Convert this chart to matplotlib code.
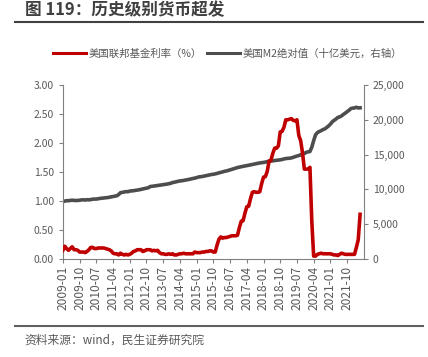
import numpy as np
import matplotlib
matplotlib.use('Agg')
import matplotlib.pyplot as plt
from matplotlib.lines import Line2D

plt.rcParams['font.family'] = ['Noto Sans CJK SC', 'DejaVu Sans']

# Monthly data, 2009-01 .. 2022-05
fed_rate = [
    0.15, 0.22, 0.18, 0.15, 0.18, 0.21, 0.16, 0.16, 0.15, 0.12, 0.12, 0.12,  # 2009
    0.11, 0.13, 0.16, 0.20, 0.20, 0.18, 0.18, 0.19, 0.19, 0.19, 0.19, 0.18,  # 2010
    0.17, 0.16, 0.14, 0.10, 0.09, 0.09, 0.07, 0.10, 0.08, 0.07, 0.08, 0.07,  # 2011
    0.08, 0.10, 0.13, 0.14, 0.16, 0.16, 0.16, 0.13, 0.14, 0.16, 0.16, 0.16,  # 2012
    0.14, 0.15, 0.14, 0.15, 0.11, 0.09, 0.09, 0.08, 0.08, 0.09, 0.08, 0.09,  # 2013
    0.07, 0.07, 0.08, 0.09, 0.09, 0.10, 0.09, 0.09, 0.09, 0.09, 0.09, 0.12,  # 2014
    0.11, 0.11, 0.11, 0.12, 0.12, 0.13, 0.13, 0.14, 0.14, 0.12, 0.12, 0.24,  # 2015
    0.34, 0.38, 0.36, 0.37, 0.37, 0.38, 0.39, 0.40, 0.40, 0.40, 0.41, 0.54,  # 2016
    0.65, 0.66, 0.79, 0.90, 0.91, 1.04, 1.15, 1.16, 1.15, 1.15, 1.16, 1.30,  # 2017
    1.41, 1.42, 1.51, 1.69, 1.70, 1.82, 1.91, 1.91, 1.95, 2.19, 2.20, 2.27,  # 2018
    2.40, 2.40, 2.41, 2.42, 2.39, 2.38, 2.40, 2.13, 2.04, 1.83, 1.55, 1.55,  # 2019
    1.55, 1.58, 0.65, 0.05, 0.05, 0.08, 0.09, 0.10, 0.09, 0.09, 0.09, 0.09,  # 2020
    0.09, 0.08, 0.07, 0.07, 0.06, 0.08, 0.10, 0.09, 0.08, 0.08, 0.08, 0.08,  # 2021
    0.08, 0.08, 0.20, 0.33, 0.77,                                            # 2022
]

m2 = [
    8250, 8320, 8380, 8370, 8420, 8440, 8420, 8400, 8420, 8440, 8490, 8500,
    8470, 8520, 8500, 8530, 8600, 8600, 8610, 8660, 8700, 8740, 8760, 8800,
    8820, 8870, 8910, 8960, 9010, 9080, 9260, 9530, 9570, 9630, 9680, 9660,
    9760, 9780, 9810, 9850, 9900, 9940, 10000, 10060, 10110, 10190, 10240, 10410,
    10440, 10480, 10520, 10550, 10590, 10630, 10670, 10720, 10760, 10820, 10870, 10980,
    11030, 11100, 11160, 11220, 11240, 11290, 11340, 11400, 11440, 11510, 11560, 11620,
    11690, 11780, 11810, 11850, 11910, 11970, 12020, 12090, 12140, 12170, 12230, 12290,
    12380, 12440, 12510, 12600, 12640, 12720, 12800, 12890, 12970, 13050, 13140, 13200,
    13260, 13310, 13360, 13420, 13460, 13520, 13580, 13640, 13700, 13750, 13800, 13840,
    13870, 13920, 13990, 14030, 14070, 14120, 14150, 14180, 14210, 14240, 14300, 14370,
    14430, 14450, 14480, 14520, 14610, 14700, 14790, 14860, 14970, 15060, 15150, 15320,
    15390, 15440, 16060, 17000, 17830, 18150, 18310, 18430, 18590, 18690, 18890, 19110,
    19370, 19700, 19920, 20100, 20330, 20420, 20550, 20770, 20950, 21150, 21360, 21600,
    21680, 21700, 21800, 21700, 21720,
]

months = [f'{2009 + i // 12}-{i % 12 + 1:02d}' for i in range(len(fed_rate))]
tick_labels = months[::9][:18]

RED = '#C00000'
GREY = '#4D4D4D'
TXT = '#595959'

fig = plt.figure(figsize=(4.28, 3.57), dpi=100)
ax = fig.add_axes([0.147, 0.2745, 0.703, 0.4875])
ax2 = ax.twinx()

x = np.arange(len(fed_rate))
ax.plot(x, fed_rate, color=RED, lw=2.6, solid_joinstyle='round', zorder=3)
ax2.plot(x, m2, color=GREY, lw=2.6, solid_joinstyle='round')
ax.set_zorder(ax2.get_zorder() + 1)
ax.patch.set_visible(False)

ax.set_xlim(0, 162)
ax.set_ylim(0, 3)
ax2.set_ylim(0, 25000)
ax.set_yticks(np.arange(0, 3.01, 0.5))
ax.set_yticklabels([f'{v:.2f}' for v in np.arange(0, 3.01, 0.5)])
ax2.set_yticks(np.arange(0, 25001, 5000))
ax2.set_yticklabels([f'{v:,}' for v in range(0, 25001, 5000)])
ax.set_xticks(np.arange(0, len(tick_labels) * 9, 9))
ax.set_xticklabels(tick_labels, rotation=90)

for a in (ax, ax2):
    a.spines['top'].set_visible(False)
    for s in ('left', 'right', 'bottom'):
        a.spines[s].set_color('#808080')
        a.spines[s].set_linewidth(0.8)
    a.tick_params(colors='#808080', labelcolor=TXT, labelsize=7.5, length=3, width=0.8)
ax.tick_params(axis='x', labelsize=8.6, pad=2)
ax.spines['right'].set_visible(False)
ax2.spines['left'].set_visible(False)
ax2.spines['bottom'].set_visible(False)

handles = [Line2D([], [], color=RED, lw=2.2), Line2D([], [], color=GREY, lw=2.2)]
fig.legend(handles, ['美国联邦基金利率（%）', '美国M2绝对值（十亿美元，右轴）'],
           loc='center left', bbox_to_anchor=(0.124, 0.85), ncol=2, frameon=False,
           fontsize=7.5, handlelength=3.2, handletextpad=0.2, columnspacing=0.5,
           labelcolor=TXT, borderaxespad=0, borderpad=0)

fig.text(0.058, 0.972, '图 119：历史级别货币超发', fontsize=12, fontweight='bold',
         color='#404040', va='center', ha='left')
fig.add_artist(Line2D([0.035, 0.988], [0.938, 0.938], color='#404040', lw=1.5))
fig.add_artist(Line2D([0.035, 0.988], [0.087, 0.087], color='#606060', lw=1.5))
fig.text(0.058, 0.048, '资料来源：wind，民生证券研究院', fontsize=8.5, color=TXT,
         va='center', ha='left')

fig.savefig('out.png', dpi=100)
